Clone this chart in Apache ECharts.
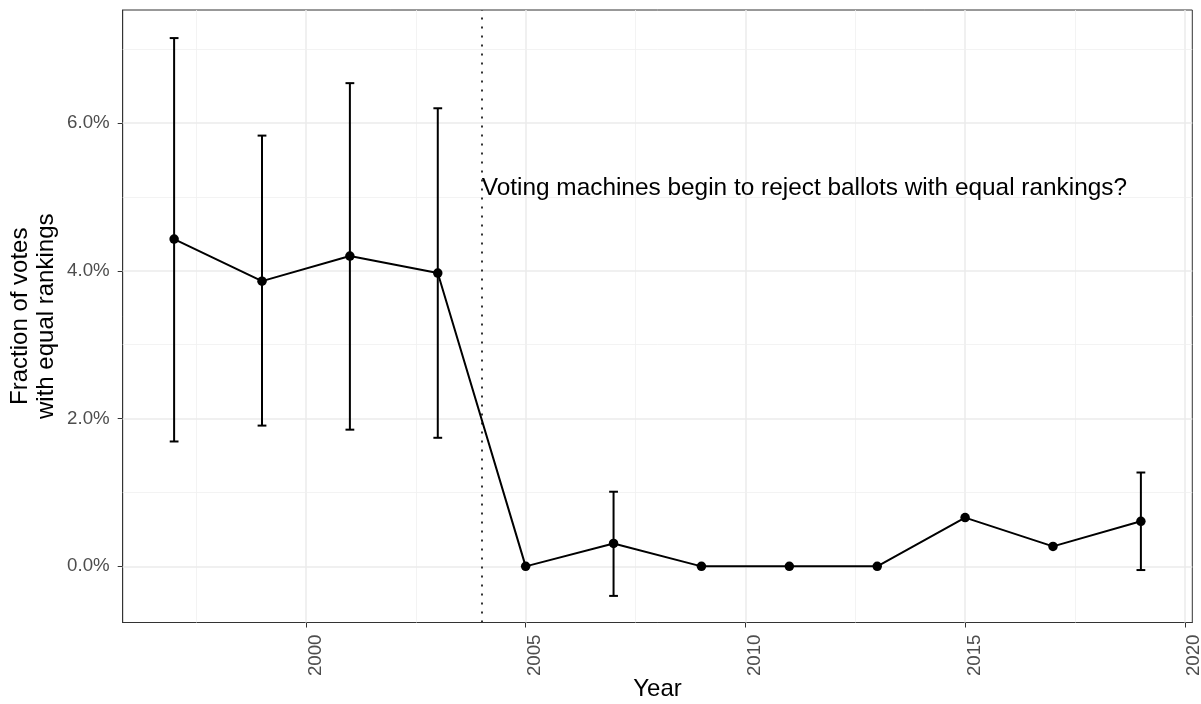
<!DOCTYPE html>
<html>
<head>
<meta charset="utf-8">
<script src="https://cdn.jsdelivr.net/npm/echarts@6/dist/echarts.min.js"></script>
<style>
html,body{margin:0;padding:0;background:#fff;}
#chart{width:1201px;height:704px;}
</style>
</head>
<body>
<div id="chart"></div>
<script>
// ---- data ----
const years = [1997, 1999, 2001, 2003, 2005, 2007, 2009, 2011, 2013, 2015, 2017, 2019];
const fraction = [4.43, 3.86, 4.20, 3.97, 0.00, 0.31, 0.00, 0.00, 0.00, 0.66, 0.27, 0.61];
const lower = [1.69, 1.905, 1.85, 1.74, null, -0.40, null, null, null, null, null, -0.05];
const upper = [7.15, 5.83, 6.54, 6.20, null, 1.01, null, null, null, null, null, 1.27];

const xTickValues = [2000, 2005, 2010, 2015, 2020];
const xMinorValues = [1997.5, 2002.5, 2007.5, 2012.5, 2017.5];
const yTickValues = [0, 2, 4, 6];
const yMinorValues = [1, 3, 5, 7];

const changeYear = 2004;
const annotationText = 'Voting machines begin to reject ballots with equal rankings?';
const annotationY = 5.12;

const xTitle = 'Year';
const yTitle = 'Fraction of votes\nwith equal rankings';

// ---- build ----
const lineData = years.map((y, i) => [y, fraction[i]]);
const errData = [];
years.forEach((y, i) => {
  if (lower[i] !== null && upper[i] !== null) errData.push([y, lower[i], upper[i]]);
});

const FONT = '"Liberation Sans", Arial, Helvetica, sans-serif';
const chart = echarts.init(document.getElementById('chart'), null, {renderer: 'canvas'});

const gridLines = [];
xTickValues.forEach(v => gridLines.push({xAxis: v, lineStyle: {color: '#EBEBEB', width: 1.5, type: 'solid'}}));
xMinorValues.forEach(v => gridLines.push({xAxis: v, lineStyle: {color: '#F0F0F0', width: 0.8, type: 'solid'}}));
yTickValues.forEach(v => gridLines.push({yAxis: v, lineStyle: {color: '#EBEBEB', width: 1.5, type: 'solid'}}));
yMinorValues.forEach(v => gridLines.push({yAxis: v, lineStyle: {color: '#F0F0F0', width: 0.8, type: 'solid'}}));

const option = {
  animation: false,
  backgroundColor: '#fff',
  grid: {
    left: 122.7, top: 10, width: 1069.6, height: 612.5,
    show: true, borderColor: '#333', borderWidth: 1, backgroundColor: '#fff',
    containLabel: false, outerBoundsMode: 'none'
  },
  xAxis: {
    type: 'value', min: 1995.83, max: 2020.17,
    name: xTitle, nameLocation: 'middle', nameGap: 55, nameMoveOverlap: false,
    nameTextStyle: {fontFamily: FONT, fontSize: 24, color: '#000'},
    axisLine: {show: true, onZero: false, lineStyle: {color: '#333', width: 1}},
    axisTick: {show: true, length: 5, lineStyle: {color: '#333', width: 1}, customValues: xTickValues},
    axisLabel: {
      show: true, rotate: 90, margin: 12, customValues: xTickValues,
      fontFamily: FONT, fontSize: 18.7, color: '#4D4D4D', verticalAlign: 'top',
      formatter: v => String(v)
    },
    splitLine: {show: false}, minorSplitLine: {show: false}
  },
  yAxis: {
    type: 'value', min: -0.76, max: 7.53,
    name: yTitle, nameLocation: 'middle', nameGap: 63, nameMoveOverlap: false,
    nameTextStyle: {fontFamily: FONT, fontSize: 24, color: '#000', lineHeight: 26, align: 'center'},
    axisLine: {show: true, onZero: false, lineStyle: {color: '#333', width: 1}},
    axisTick: {show: true, length: 5, lineStyle: {color: '#333', width: 1}, customValues: yTickValues},
    axisLabel: {
      show: true, margin: 13, customValues: yTickValues,
      fontFamily: FONT, fontSize: 18.7, color: '#4D4D4D',
      formatter: v => v.toFixed(1) + '%'
    },
    splitLine: {show: false}, minorSplitLine: {show: false}
  },
  series: [
    {
      name: 'grid', type: 'line', data: [], silent: true, z: 1,
      markLine: {
        silent: true, symbol: ['none', 'none'], z: 1, animation: false,
        label: {show: false}, emphasis: {disabled: true},
        data: gridLines
      }
    },
    {
      name: 'change', type: 'line', data: [], silent: true, z: 2,
      markLine: {
        silent: true, symbol: ['none', 'none'], z: 2, animation: false,
        label: {show: false}, emphasis: {disabled: true},
        data: [{xAxis: changeYear, lineStyle: {color: '#333', width: 2, type: [2, 7]}}]
      }
    },
    {
      name: 'errorbars', type: 'custom', z: 3, silent: true,
      data: errData,
      encode: {x: 0, y: [1, 2]},
      renderItem: function (params, api) {
        const x = api.value(0), lo = api.value(1), hi = api.value(2);
        const pLo = api.coord([x, lo]);
        const pHi = api.coord([x, hi]);
        const half = api.coord([x + 0.1, lo])[0] - pLo[0];
        const st = {stroke: '#000', lineWidth: 2};
        return {
          type: 'group',
          children: [
            {type: 'line', shape: {x1: pLo[0], y1: pLo[1], x2: pHi[0], y2: pHi[1]}, style: st},
            {type: 'line', shape: {x1: pLo[0] - half, y1: pLo[1], x2: pLo[0] + half, y2: pLo[1]}, style: st},
            {type: 'line', shape: {x1: pHi[0] - half, y1: pHi[1], x2: pHi[0] + half, y2: pHi[1]}, style: st}
          ]
        };
      }
    },
    {
      name: 'fraction', type: 'line', z: 4, silent: true,
      data: lineData,
      symbol: 'circle', symbolSize: 9.5,
      itemStyle: {color: '#000'},
      lineStyle: {color: '#000', width: 2}
    },
    {
      name: 'annotation', type: 'scatter', z: 5, silent: true,
      data: [[changeYear, annotationY]],
      symbolSize: 0,
      itemStyle: {opacity: 1},
      label: {
        show: true, position: 'right', distance: 0,
        formatter: annotationText,
        fontFamily: FONT, fontSize: 24.4, color: '#000', opacity: 1,
        textBorderWidth: 0, textShadowBlur: 0,
        align: 'left', verticalAlign: 'middle'
      }
    }
  ]
};
chart.setOption(option);
</script>
</body>
</html>
